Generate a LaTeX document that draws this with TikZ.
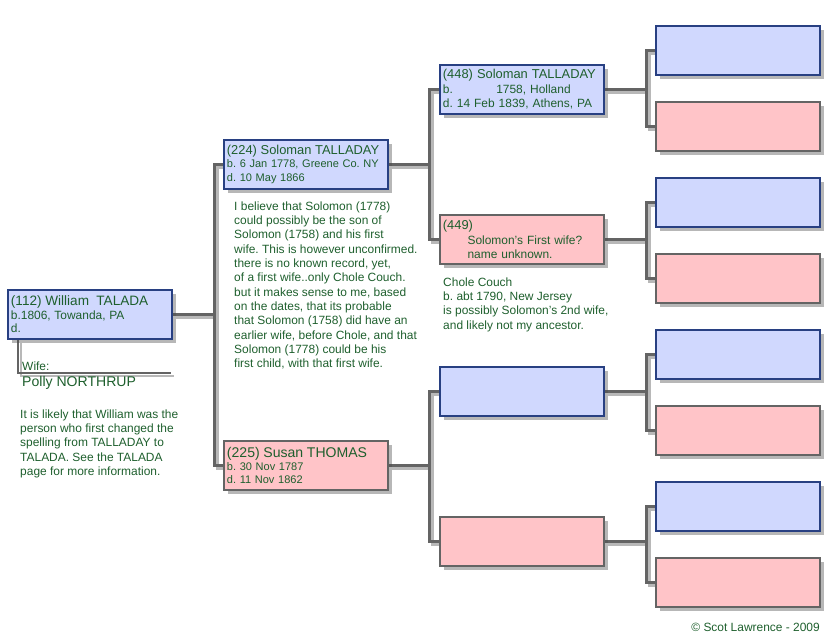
\documentclass[tikz,border=0pt]{standalone}
\usepackage{fontspec}
\setmainfont{Liberation Sans}
\usetikzlibrary{positioning, shadows, backgrounds}
\definecolor{famBlue}{RGB}{208, 216, 254}
\definecolor{famBlueLine}{RGB}{40, 64, 130}
\definecolor{famPink}{RGB}{255, 196, 200}
\definecolor{famGray}{RGB}{100, 100, 100}
\definecolor{famText}{RGB}{30, 95, 45}

\newcommand{\nameFont}{\fontsize{11}{11.5}\selectfont}
\newcommand{\subFont}{\fontsize{9.4}{11.5}\selectfont}
\newcommand{\noteFont}{\fontsize{10.2}{12.2}\selectfont}
\frenchspacing

\begin{document}
\begin{tikzpicture}[
        x=0.03cm,
        y=-0.03cm,
        personBase/.style={
            anchor=north west,
            minimum width=4.92cm,
            minimum height=1.47cm,
            text width=4.74cm,
            inner xsep=0.09cm,
            inner ysep=0pt,
            align=left,
            line width=1.6pt,
            text=famText,
            font=\subFont,
            drop shadow={shadow xshift=3.5pt, shadow yshift=-3.5pt, fill=black!70, opacity=0.4}
        },
        male/.style={personBase, draw=famBlueLine, fill=famBlue},
        female/.style={personBase, draw=famGray, fill=famPink},
        link/.style={
            draw=famGray,
            line width=2.4pt,
            preaction={draw=black!28, line width=2.4pt, transform canvas={shift={(2.5pt,-2.5pt)}}}
        },
        note/.style={text=famText, font=\noteFont, align=left, inner sep=0pt}
    ]
        \useasboundingbox (0,0) rectangle (833,633);

        % generation 1 and 2
        \node[male] (n112) at (7,289)
            {{\fontsize{11.6}{11.5}\selectfont (112) William\ \ TALADA}\\
             {\fontsize{10.2}{11.5}\selectfont b.1806, Towanda, PA\\ d.}};
        \node[male] (n224) at (223,139)
            {{\nameFont (224) Soloman TALLADAY}\\
             b. 6 Jan 1778, Greene Co. NY\\
             d. 10 May 1866};
        \node[female] (n225) at (223,440)
            {{\fontsize{12}{11.5}\selectfont (225) Susan THOMAS}\\
             b. 30 Nov 1787\\
             d. 11 Nov 1862};

        % generation 3
        \node[male, font=\fontsize{10.2}{12.4}\selectfont] (n448) at (439,64)
            {{\nameFont (448) Soloman TALLADAY}\\
             b.\hspace{37pt}1758, Holland\\
             d. 14 Feb 1839, Athens, PA};
        \node[female, font=\fontsize{10.2}{12.4}\selectfont] (n449) at (439,214)
            {{\nameFont (449)}\\
             \hspace*{21pt}Solomon's First wife?\\
             \hspace*{21pt}name unknown.};
        \node[male] (n450) at (439,366) {};
        \node[female] (n451) at (439,516) {};

        % generation 4
        \foreach \num/\sty [count=\k from 0] in {896/male, 897/female, 898/male, 899/female,
                                                 900/male, 901/female, 902/male, 903/female} {
            \node[\sty] (n\num) at (655,25+76*\k) {};
        }

        % notes
        \coordinate (wifeEnd) at (171,373);
        \node[note, anchor=west] (wifeLabel) at (22,366) {Wife:};
        \node[note, anchor=west, font=\fontsize{12}{14}\selectfont] (wifeName) at (22,383) {Polly NORTHRUP};
        \node[note, anchor=north west] (note112) at (20,409.5)
            {It is likely that William was the\\
             person who first changed the\\
             spelling from TALLADAY to\\
             TALADA. See the TALADA\\
             page for more information.};
        \node[note, anchor=north west] (note224) at (234,201.5)
            {I believe that Solomon (1778)\\
             could possibly be the son of\\
             Solomon (1758) and his first\\
             wife. This is however unconfirmed.\\
             there is no known record, yet,\\
             of a first wife..only Chole Couch.\\
             but it makes sense to me, based\\
             on the dates, that its probable\\
             that Solomon (1758) did have an\\
             earlier wife, before Chole, and that\\
             Solomon (1778) could be his\\
             first child, with that first wife.};
        \node[note, anchor=north west] (note449) at (443,277.5)
            {Chole Couch\\
             b. abt 1790, New Jersey\\
             is possibly Solomon's 2nd wife,\\
             and likely not my ancestor.};
        \node[note, anchor=east] (copyright) at (820,627) {\textcopyright{} Scot Lawrence - 2009};

        % connectors
        \begin{scope}[on background layer]
            \draw[link] ([xshift=0.33cm]n112.south west) |- (wifeEnd);
            \draw[link] (n112.east) -- ++(42,0) coordinate (j112);
            \draw[link] (n224.west) -| (j112) |- (n225.west);
            \foreach \c/\f/\m in {n224/n448/n449, n225/n450/n451} {
                \draw[link] (\c.east) -- ++(41,0) coordinate (j);
                \draw[link] (\f.west) -| (j) |- (\m.west);
            }
            \foreach \c/\f/\m in {n448/n896/n897, n449/n898/n899, n450/n900/n901, n451/n902/n903} {
                \draw[link] (\c.east) -- ++(42,0) coordinate (j);
                \draw[link] (\f.west) -| (j) |- (\m.west);
            }
        \end{scope}
    \end{tikzpicture}
\end{document}
